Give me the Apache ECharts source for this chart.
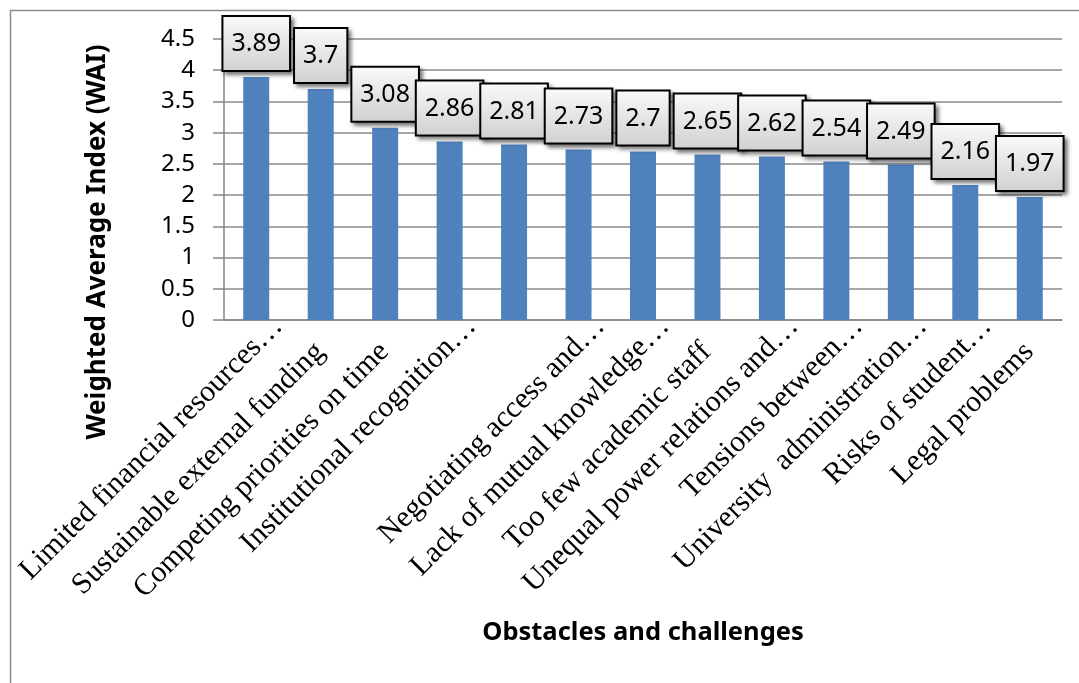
<!DOCTYPE html>
<html>
<head>
<meta charset="utf-8">
<script src="https://cdn.jsdelivr.net/npm/echarts@6/dist/echarts.min.js"></script>
<style>
  html, body { margin: 0; padding: 0; background: #fff; }
  #chart { width: 1079px; height: 683px; }
</style>
</head>
<body>
<div id="chart"></div>
<script>
// Obstacles ranked by weighted average index
const categories = [
  'Limited financial resources…',
  'Sustainable external funding',
  'Competing priorities on time',
  'Institutional recognition…',
  '',
  'Negotiating access and…',
  'Lack of mutual knowledge…',
  'Too few academic staff',
  'Unequal power relations and…',
  'Tensions between…',
  'University  administration…',
  'Risks of student…',
  'Legal problems'
];
const waiValues = [3.89, 3.7, 3.08, 2.86, 2.81, 2.73, 2.7, 2.65, 2.62, 2.54, 2.49, 2.16, 1.97];
const yTicks = { min: 0, max: 4.5, interval: 0.5 };
const yTitle = 'Weighted Average Index (WAI)';
const xTitle = 'Obstacles and challenges';

const chart = echarts.init(document.getElementById('chart'), null, { renderer: 'canvas' });

const catFont = { fontFamily: '"Liberation Serif", "Times New Roman", serif', fontSize: 30, color: '#000' };

const option = {
  animation: false,
  backgroundColor: '#fff',
  grid: { left: 224, top: 39, width: 838, height: 281, outerBoundsMode: 'none' },
  xAxis: {
    type: 'category',
    data: categories,
    axisLine: { show: true, lineStyle: { color: '#868686', width: 1.5 } },
    axisTick: { show: false },
    axisLabel: {
      interval: 0,
      rotate: 45,
      margin: -20,
      // shortened names sit a little higher than the complete ones
      formatter: v => (v.endsWith('…') ? '{t|' + v + '}' : '{f|' + v + '}'),
      rich: {
        t: Object.assign({ padding: [62, 0, 0, 0] }, catFont),
        f: Object.assign({ padding: [66, 34, 0, 0] }, catFont)
      }
    },
    name: xTitle,
    nameLocation: 'middle',
    nameGap: 300,
    nameTextStyle: { fontFamily: '"Noto Sans", sans-serif', fontWeight: 'bold', fontSize: 25.5, color: '#000' }
  },
  yAxis: {
    type: 'value',
    min: yTicks.min,
    max: yTicks.max,
    interval: yTicks.interval,
    axisLine: { show: true, lineStyle: { color: '#868686', width: 1.5 } },
    axisTick: { show: true, length: 11, lineStyle: { color: '#868686', width: 1.5 } },
    splitLine: { show: true, lineStyle: { color: '#8a8a8a', width: 1.5 } },
    axisLabel: { margin: 29, fontFamily: '"Noto Sans", sans-serif', fontSize: 24, color: '#000' }
  },
  series: [{
    type: 'bar',
    data: waiValues,
    barWidth: 26,
    itemStyle: { color: '#4f81bd' },
    label: {
      show: true,
      position: 'top',
      distance: 7,
      fontFamily: '"Noto Sans", sans-serif',
      fontSize: 25,
      lineHeight: 28,
      color: '#000',
      padding: [13, 8, 12, 8],
      borderColor: '#000',
      borderWidth: 2,
      backgroundColor: new echarts.graphic.LinearGradient(0, 0, 0, 1, [
        { offset: 0, color: '#fafafa' },
        { offset: 1, color: '#d0d0d0' }
      ]),
      shadowColor: 'rgba(0,0,0,0.45)',
      shadowBlur: 4,
      shadowOffsetX: 3,
      shadowOffsetY: 3
    }
  }],
  graphic: [
    {
      type: 'rect',
      left: 8, top: 8,
      shape: { width: 1100, height: 700 },
      style: { fill: null, stroke: '#8c8c8c', lineWidth: 1.5 },
      silent: true
    },
    {
      type: 'text',
      x: 98, y: 242,
      rotation: Math.PI / 2,
      style: {
        text: yTitle,
        font: 'bold 26px "Noto Sans", sans-serif',
        fill: '#000',
        align: 'center',
        verticalAlign: 'middle'
      }
    }
  ]
};

chart.setOption(option);
</script>
</body>
</html>
